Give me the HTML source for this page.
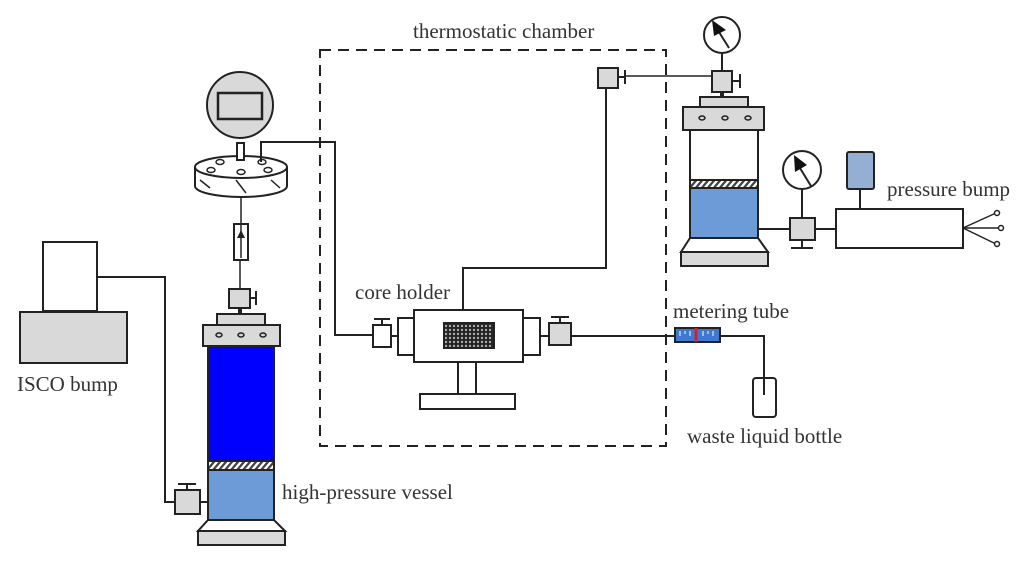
<!DOCTYPE html>
<html><head><meta charset="utf-8"><style>
html,body{margin:0;padding:0;background:#fff;width:1032px;height:563px;overflow:hidden}
svg{display:block}
text{font-family:"Liberation Serif",serif;font-size:21px;fill:#333}
</style></head><body>
<svg width="1032" height="563" viewBox="0 0 1032 563" xmlns="http://www.w3.org/2000/svg">
<defs>
<pattern id="hatch" width="6" height="8" patternUnits="userSpaceOnUse" patternTransform="skewX(-40)">
<rect width="6" height="8" fill="#fff"/><rect width="3" height="8" fill="#444"/></pattern>
<pattern id="mesh" width="4" height="4" patternUnits="userSpaceOnUse"><rect width="4" height="4" fill="#222"/><circle cx="2" cy="2" r="1.2" fill="#aaa"/></pattern>
</defs>
<g stroke="#222" stroke-width="2" fill="none">
<rect x="320" y="50" width="346" height="396" stroke-dasharray="11,7"/>

<rect x="43" y="242" width="54" height="69" fill="#fff"/>
<rect x="20" y="312" width="107" height="51" fill="#d9d9d9"/>
<polyline points="97,277 165,277 165,502 175,502"/>
<rect x="175" y="490" width="25" height="24" fill="#d9d9d9"/>
<line x1="187" y1="490" x2="187" y2="484"/><line x1="178" y1="484" x2="196" y2="484"/>
<line x1="200" y1="502" x2="208" y2="502"/>

<rect x="217" y="314" width="48" height="11" fill="#d9d9d9"/>
<rect x="203" y="325" width="77" height="21" fill="#d9d9d9"/>
<rect x="208" y="346" width="66" height="115" fill="#0000ff"/>
<rect x="208" y="461" width="66" height="9" fill="url(#hatch)"/>
<rect x="208" y="470" width="66" height="50" fill="#6c9bd8"/>
<polygon points="208,520 274,520 285,531 198,531" fill="#fff"/>
<rect x="198" y="531" width="87" height="14" fill="#d9d9d9"/>
<g stroke-width="1.5"><ellipse cx="219" cy="335" rx="3" ry="2"/><ellipse cx="241" cy="335" rx="3" ry="2"/><ellipse cx="263" cy="335" rx="3" ry="2"/></g>
<line x1="240" y1="308" x2="240" y2="314" stroke-width="4"/>
<rect x="229" y="289" width="21" height="19" fill="#d9d9d9"/>
<line x1="250" y1="298" x2="256" y2="298"/><line x1="256" y1="291" x2="256" y2="305"/>
<line x1="240" y1="289" x2="240" y2="260" stroke-width="1.5"/>
<rect x="234" y="224" width="14" height="36" fill="#fff"/>
<line x1="241" y1="258" x2="241" y2="197" stroke-width="1.5"/>
<polygon points="241,230 237,238 245,238" fill="#222" stroke="none"/>

<path d="M195,167 L195,186 A46,11 0 0 0 287,186 L287,167" fill="#fff"/>
<ellipse cx="241" cy="167" rx="46" ry="11" fill="#fff"/>
<g stroke-width="1.5"><ellipse cx="220" cy="162" rx="4" ry="2.5"/><ellipse cx="262" cy="162" rx="4" ry="2.5"/><ellipse cx="211" cy="170" rx="4" ry="2.5"/><ellipse cx="241" cy="172" rx="4" ry="2.5"/><ellipse cx="268" cy="170" rx="4" ry="2.5"/>
<line x1="200" y1="180" x2="210" y2="188"/><line x1="236" y1="180" x2="246" y2="193"/><line x1="271" y1="180" x2="280" y2="188"/></g>
<rect x="237" y="143" width="7" height="17" fill="#fff"/>
<circle cx="240" cy="105" r="33" fill="#d9d9d9"/>
<rect x="218" y="93" width="44" height="26" fill="#d9d9d9" stroke-width="2.5"/>
<polyline points="261,162 261,142 335,142 335,335 373,335"/>

<rect x="373" y="325" width="18" height="22" fill="#fff"/>
<line x1="382" y1="325" x2="382" y2="319"/><line x1="374" y1="319" x2="390" y2="319"/>
<line x1="391" y1="336" x2="398" y2="336"/>
<rect x="398" y="318" width="16" height="37" fill="#fff"/>
<rect x="414" y="310" width="109" height="52" fill="#fff"/>
<rect x="444" y="323" width="50" height="25" fill="url(#mesh)"/>
<rect x="523" y="318" width="17" height="37" fill="#fff"/>
<line x1="540" y1="336" x2="549" y2="336"/>
<rect x="549" y="323" width="22" height="22" fill="#d9d9d9"/>
<line x1="560" y1="323" x2="560" y2="317"/><line x1="551" y1="317" x2="569" y2="317"/>
<line x1="458" y1="362" x2="458" y2="394"/><line x1="476" y1="362" x2="476" y2="394"/>
<rect x="420" y="394" width="95" height="15" fill="#fff"/>
<polyline points="463,310 463,268 606,268 606,88"/>
<polyline points="571,336 764,336 764,395"/>
<rect x="675" y="328" width="45" height="14" fill="#3f78d0"/>
<line x1="696" y1="328" x2="696" y2="342" stroke="#d02030" stroke-width="3"/>
<g stroke-width="1" stroke="#fff"><line x1="680" y1="331" x2="680" y2="336"/><line x1="685" y1="331" x2="685" y2="334"/><line x1="690" y1="331" x2="690" y2="336"/><line x1="703" y1="331" x2="703" y2="336"/><line x1="708" y1="331" x2="708" y2="334"/><line x1="713" y1="331" x2="713" y2="336"/></g>
<rect x="753" y="378" width="23" height="39" rx="3" fill="none"/>

<rect x="598" y="68" width="20" height="20" fill="#d9d9d9"/>
<line x1="618" y1="77" x2="625" y2="77"/><line x1="625" y1="70" x2="625" y2="84"/>
<line x1="625" y1="76" x2="712" y2="76" stroke-width="1.5"/>
<rect x="712" y="71" width="20" height="21" fill="#d9d9d9"/>
<line x1="732" y1="81" x2="740" y2="81"/><line x1="740" y1="74" x2="740" y2="88"/>
<line x1="722" y1="71" x2="722" y2="53"/>
<circle cx="722" cy="35" r="18" fill="#fff"/>
<line x1="714" y1="24" x2="729" y2="48"/>
<polygon points="712,20 714,36 726,30" fill="#111" stroke="none"/>
<line x1="722" y1="92" x2="722" y2="97" stroke-width="4"/>
<rect x="700" y="97" width="48" height="10" fill="#d9d9d9"/>
<rect x="683" y="107" width="81" height="23" fill="#d9d9d9"/>
<g stroke-width="1.5"><ellipse cx="702" cy="118" rx="3" ry="2"/><ellipse cx="725" cy="118" rx="3" ry="2"/><ellipse cx="748" cy="118" rx="3" ry="2"/></g>
<rect x="690" y="130" width="68" height="50" fill="#fff"/>
<rect x="690" y="180" width="68" height="8" fill="url(#hatch)"/>
<rect x="690" y="188" width="68" height="50" fill="#6c9bd8"/>
<polygon points="690,238 758,238 768,252 681,252" fill="#fff"/>
<rect x="681" y="252" width="87" height="14" fill="#d9d9d9"/>
<line x1="758" y1="229" x2="790" y2="229"/>
<rect x="790" y="218" width="25" height="22" fill="#d9d9d9"/>
<line x1="802" y1="240" x2="802" y2="248"/><line x1="791" y1="248" x2="813" y2="248"/>
<line x1="802" y1="218" x2="802" y2="189"/>
<circle cx="802" cy="170" r="19" fill="#fff"/>
<line x1="795" y1="160" x2="811" y2="186"/>
<polygon points="794,155 795,172 807,165" fill="#111" stroke="none"/>
<line x1="815" y1="229" x2="836" y2="229"/>
<rect x="836" y="209" width="127" height="39" fill="#fff"/>
<rect x="847" y="152" width="27" height="37" rx="2" fill="#94afd2"/>
<line x1="860" y1="189" x2="860" y2="209"/>
<g stroke-width="1.5"><polyline points="963,228 996,213"/><line x1="963" y1="228" x2="999" y2="228"/><line x1="963" y1="228" x2="996" y2="244"/></g>
<g stroke-width="1.5" fill="#fff"><circle cx="997" cy="213" r="2.5"/><circle cx="1001" cy="228" r="2.5"/><circle cx="997" cy="244" r="2.5"/></g>
</g>
<text x="413" y="38">thermostatic chamber</text>
<text x="887" y="196">pressure bump</text>
<text x="355" y="299">core holder</text>
<text x="673" y="318">metering tube</text>
<text x="687" y="443">waste liquid bottle</text>
<text x="17" y="391">ISCO bump</text>
<text x="282" y="499">high-pressure vessel</text>
</svg>
</body></html>
